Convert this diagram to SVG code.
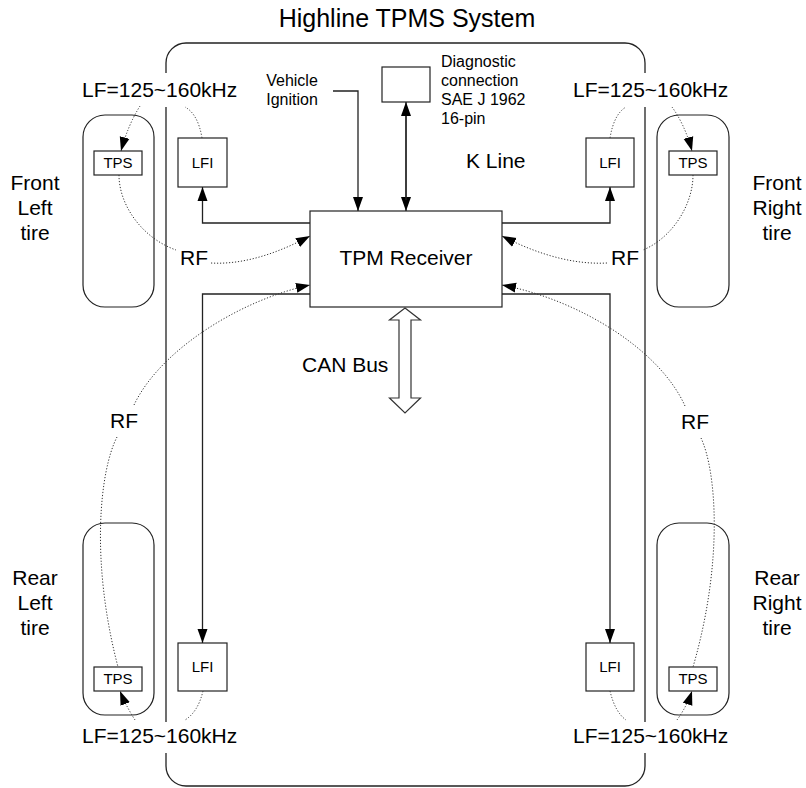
<svg xmlns="http://www.w3.org/2000/svg" width="806" height="788" viewBox="0 0 806 788">
<style>
text{font-family:"Liberation Sans",Arial,sans-serif;fill:#000}
.big{font-size:21px}
.mid{font-size:16px}
.sm{font-size:15px}
.box{fill:#fff;stroke:#222;stroke-width:1.2}
.line{fill:none;stroke:#222;stroke-width:1.3}
.dot{fill:none;stroke:#333;stroke-width:1;stroke-dasharray:1.2,1.8}
</style>
<defs>
<marker id="ah" markerUnits="userSpaceOnUse" markerWidth="15" markerHeight="11" refX="14" refY="5.5" orient="auto">
<path d="M0,0.5 L14,5.5 L0,10.5 z" fill="#000"/>
</marker>
</defs>
<rect width="806" height="788" fill="#fff"/>
<text x="407" y="27" font-size="25" text-anchor="middle">Highline TPMS System</text>

<g id="body">
<path class="line" d="M166,73 L166,63 A20,20 0 0 1 186,43 L625,43 A20,20 0 0 1 645,63 L645,73 M645,107 L645,722 M645,753 L645,766 A20,20 0 0 1 625,786 L186,786 A20,20 0 0 1 166,766 L166,753 M166,722 L166,107"/>
</g>

<g id="tire-fl">
<rect class="box" x="83" y="115" width="71" height="192" rx="22"/>
<text class="big" x="35" y="190" text-anchor="middle">Front</text>
<text class="big" x="35" y="215" text-anchor="middle">Left</text>
<text class="big" x="35" y="240" text-anchor="middle">tire</text>
</g>
<g id="tire-fr">
<rect class="box" x="657" y="115" width="72" height="192" rx="22"/>
<text class="big" x="777" y="190" text-anchor="middle">Front</text>
<text class="big" x="777" y="215" text-anchor="middle">Right</text>
<text class="big" x="777" y="240" text-anchor="middle">tire</text>
</g>
<g id="tire-rl">
<rect class="box" x="83" y="523" width="71" height="192" rx="22"/>
<text class="big" x="35" y="585" text-anchor="middle">Rear</text>
<text class="big" x="35" y="610" text-anchor="middle">Left</text>
<text class="big" x="35" y="635" text-anchor="middle">tire</text>
</g>
<g id="tire-rr">
<rect class="box" x="657" y="523" width="72" height="192" rx="22"/>
<text class="big" x="777" y="585" text-anchor="middle">Rear</text>
<text class="big" x="777" y="610" text-anchor="middle">Right</text>
<text class="big" x="777" y="635" text-anchor="middle">tire</text>
</g>

<g id="tps-fl"><rect class="box" x="94" y="151" width="48" height="24"/><text class="sm" x="118" y="168" text-anchor="middle">TPS</text></g>
<g id="tps-fr"><rect class="box" x="669" y="151" width="48" height="24"/><text class="sm" x="693" y="168" text-anchor="middle">TPS</text></g>
<g id="tps-rl"><rect class="box" x="94" y="667" width="48" height="24"/><text class="sm" x="118" y="684" text-anchor="middle">TPS</text></g>
<g id="tps-rr"><rect class="box" x="669" y="667" width="48" height="24"/><text class="sm" x="693" y="684" text-anchor="middle">TPS</text></g>

<g id="lfi-fl"><rect class="box" x="178" y="138" width="49" height="49"/><text class="sm" x="202.5" y="168" text-anchor="middle">LFI</text></g>
<g id="lfi-fr"><rect class="box" x="586" y="138" width="48" height="49"/><text class="sm" x="610" y="168" text-anchor="middle">LFI</text></g>
<g id="lfi-rl"><rect class="box" x="178" y="643" width="49" height="48"/><text class="sm" x="202.5" y="672" text-anchor="middle">LFI</text></g>
<g id="lfi-rr"><rect class="box" x="586" y="643" width="48" height="48"/><text class="sm" x="610" y="672" text-anchor="middle">LFI</text></g>

<g id="receiver"><rect class="box" x="310" y="211" width="192" height="96"/><text class="big" x="406" y="265" text-anchor="middle">TPM Receiver</text></g>

<g id="diag"><rect class="box" x="382" y="67" width="48" height="35"/>
<text class="mid" x="441" y="67">Diagnostic</text>
<text class="mid" x="441" y="86">connection</text>
<text class="mid" x="441" y="105">SAE J 1962</text>
<text class="mid" x="441" y="124">16-pin</text>
</g>

<g id="ignition">
<text class="mid" x="292" y="86" text-anchor="middle">Vehicle</text>
<text class="mid" x="292" y="104.5" text-anchor="middle">Ignition</text>
</g>

<g id="labels">
<text class="big" x="466" y="168">K Line</text>
<text class="big" x="302" y="372">CAN Bus</text>
<text class="big" x="82" y="97">LF=125~160kHz</text>
<text class="big" x="573" y="97">LF=125~160kHz</text>
<text class="big" x="82" y="743">LF=125~160kHz</text>
<text class="big" x="573" y="743">LF=125~160kHz</text>
<text class="big" x="180" y="265">RF</text>
<text class="big" x="611" y="265">RF</text>
<text class="big" x="110" y="428">RF</text>
<text class="big" x="681" y="429">RF</text>
</g>

<g id="connectors">
<path class="line" d="M333,91 L358,91 L358,211" marker-end="url(#ah)"/>
<path class="line" d="M406,115 L406,211" marker-end="url(#ah)"/>
<path class="line" d="M406,200 L406,102" marker-end="url(#ah)"/>
<path class="line" d="M310,223 L202.5,223 L202.5,187" marker-end="url(#ah)"/>
<path class="line" d="M502,223 L610,223 L610,187" marker-end="url(#ah)"/>
<path class="line" d="M310,294 L202.5,294 L202.5,643" marker-end="url(#ah)"/>
<path class="line" d="M502,294 L610,294 L610,643" marker-end="url(#ah)"/>
<path d="M405,308 L420.5,320 L411,320 L411,398 L420.5,398 L405,413 L389.5,398 L399,398 L399,320 L389.5,320 Z" fill="#fff" stroke="#333" stroke-width="1.2"/>

<path class="dot" d="M202,138 Q198,114 185,107"/>
<path class="dot" d="M140,106 Q128,125 121,151" marker-end="url(#ah)"/>
<path class="dot" d="M610,138 Q614,114 626,107"/>
<path class="dot" d="M672,107 Q685,125 692,151" marker-end="url(#ah)"/>
<path class="dot" d="M203,691 Q198,712 185,720"/>
<path class="dot" d="M135,720 Q126,706 120,691" marker-end="url(#ah)"/>
<path class="dot" d="M610,691 Q615,712 626,720"/>
<path class="dot" d="M677,720 Q687,706 692,691" marker-end="url(#ah)"/>

<path class="dot" d="M119,175 C119,205 142,238 176,250"/>
<path class="dot" d="M211,263 C245,265 280,252 310,236" marker-end="url(#ah)"/>
<path class="dot" d="M693,175 C693,205 672,238 643,250"/>
<path class="dot" d="M607,263 C570,265 533,252 502,236" marker-end="url(#ah)"/>
<path class="dot" d="M134,405 C160,350 240,300 310,285" marker-end="url(#ah)"/>
<path class="dot" d="M117,437 C100,470 90,560 118,667"/>
<path class="dot" d="M685,406 C660,350 580,300 502,285" marker-end="url(#ah)"/>
<path class="dot" d="M701,438 C716,470 724,560 693,667"/>
</g>
</svg>
